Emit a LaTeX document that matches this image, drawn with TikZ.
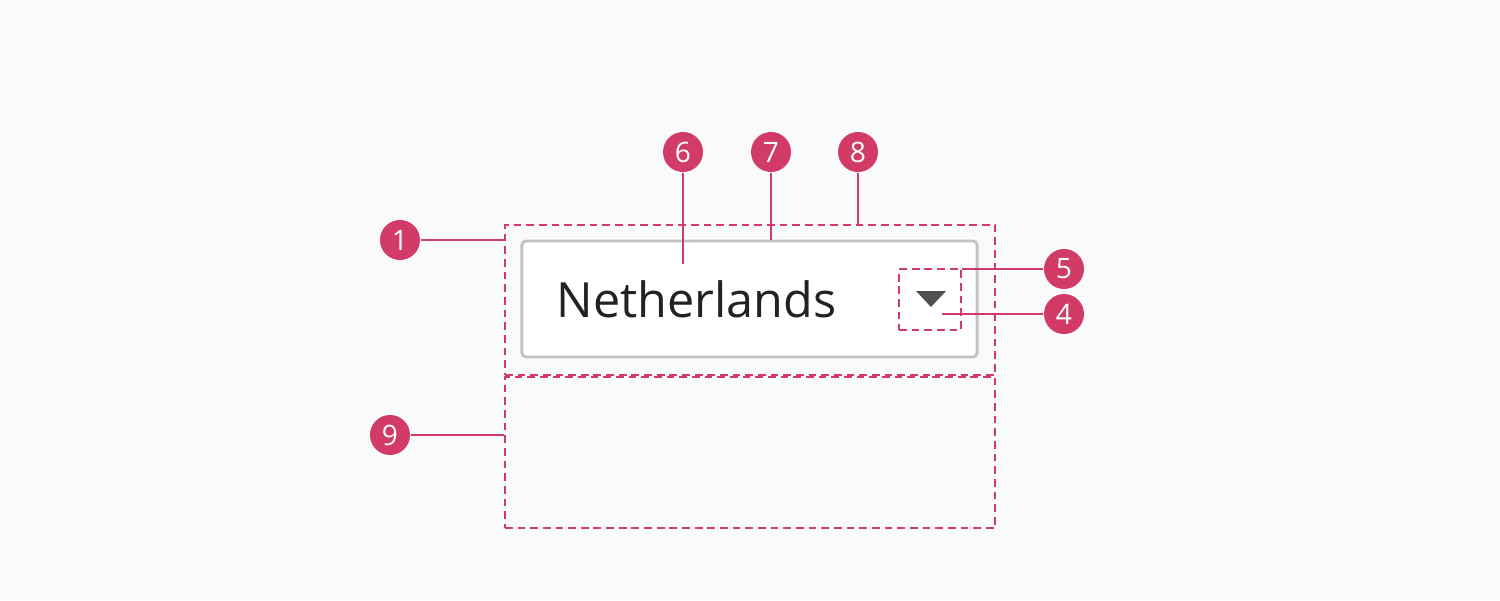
\documentclass[tikz,border=0pt]{standalone}
\usepackage{fontspec}
\setmainfont{Open Sans}
\usepackage{xcolor}
\usetikzlibrary{positioning}
\definecolor{bgpaper}{HTML}{F9FAFC}
\definecolor{markpink}{HTML}{D23A67}
\definecolor{boxgray}{HTML}{C2C2C2}
\definecolor{arrowgray}{HTML}{505050}
\definecolor{labelblack}{HTML}{222222}

\begin{document}
\begin{tikzpicture}[x=0.01cm,y=-0.01cm,
  badge/.style={circle,fill=markpink,text=white,minimum size=0.4cm,inner sep=0pt,font=\fontsize{8}{9}\selectfont},
  dashbox/.style={draw=markpink,line width=0.55pt,dash pattern=on 2.2pt off 1.4pt,inner sep=0pt},
  pin/.style={draw=markpink,line width=0.55pt}]
\fill[bgpaper] (0,0) rectangle (1500,600);
\useasboundingbox (0,0) rectangle (1500,600);
\node[draw=boxgray,fill=white,line width=0.8pt,rounded corners=1.2pt,minimum width=4.55cm,minimum height=1.16cm,inner sep=0pt] (input) at (749.5,299) {};
\node[dashbox,minimum width=4.9cm,minimum height=1.5cm] (header) at (750,300) {};
\node[dashbox,minimum width=4.9cm,minimum height=1.51cm] (list) at (750,452.5) {};
\node[dashbox,minimum width=0.62cm,minimum height=0.61cm] (toggle) at (930,299.5) {};
\node[anchor=base west,inner sep=0pt,text=labelblack,font=\fontsize{13.8}{16}\selectfont] (country) at (556,317) {Netherlands};
\fill[arrowgray] (916,291) -- (946,291) -- (931,307) -- cycle;
\coordinate (textmark) at (683,264);
\coordinate (arrowmark) at (942,314);
\node[badge] (b1) at (400,240) {1};
\node[badge] (b9) at (390,435) {9};
\node[badge] (b6) at (683,152) {6};
\node[badge] (b7) at (771,152) {7};
\node[badge] (b8) at (858,152) {8};
\node[badge] (b5) at (1064,269) {5};
\node[badge] (b4) at (1064,314) {4};
\draw[pin] (b1) -- (header.west |- b1);
\draw[pin] (b9) -- (list.west |- b9);
\draw[pin] (b6) -- (textmark);
\draw[pin] (b7) -- (input.north -| b7);
\draw[pin] (b8) -- (header.north -| b8);
\draw[pin] (b5) -- (toggle.east |- b5);
\draw[pin] (b4) -- (arrowmark);
\end{tikzpicture}
\end{document}
